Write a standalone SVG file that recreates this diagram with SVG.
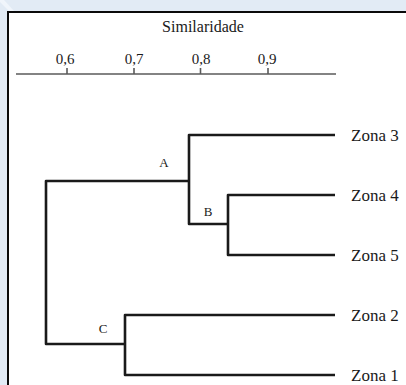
<svg xmlns="http://www.w3.org/2000/svg" width="406" height="385" viewBox="0 0 406 385">
  <style>
    .bg { fill: #e2ebf5; }
    .panel { fill: #ffffff; }
    .frame { fill: none; stroke: #0a0a0a; stroke-width: 2; }
    .axis { fill: none; stroke: #5a5a5a; stroke-width: 1.6; }
    .branch { fill: none; stroke: #1a1a1a; stroke-width: 2.6; stroke-linejoin: round; stroke-linecap: butt; }
    text { font-family: 'Liberation Serif', 'Times New Roman', serif; fill: #1a1a1a; }
    .title { font-size: 16px; text-anchor: middle; }
    .tick { font-size: 15px; text-anchor: middle; }
    .leaf { font-size: 17px; }
    .node { font-size: 13px; text-anchor: middle; }
  </style>

  <rect class="bg" x="0" y="0" width="406" height="385"/>
  <polygon points="0,0 4,0 14,11 9,11 0,2" fill="#f0f5fb"/>
  <rect class="panel" x="8" y="12" width="398" height="373"/>
  <path class="frame" d="M8,385 V12 H406"/>

  <g id="axis" font-family="Liberation Serif, serif">
    <text class="title" x="203" y="32">Similaridade</text>
    <line class="axis" x1="16" y1="74" x2="336" y2="74"/>
    <line class="axis" x1="67" y1="68" x2="67" y2="74"/>
    <line class="axis" x1="134" y1="68" x2="134" y2="74"/>
    <line class="axis" x1="200.5" y1="68" x2="200.5" y2="74"/>
    <line class="axis" x1="268" y1="68" x2="268" y2="74"/>
    <text class="tick" x="65" y="64">0,6</text>
    <text class="tick" x="134" y="64">0,7</text>
    <text class="tick" x="201" y="64">0,8</text>
    <text class="tick" x="267" y="64">0,9</text>
  </g>

  <g id="connectors">
    <path class="branch" d="M335,135 H189 V224 H228"/>
    <path class="branch" d="M335,195 H228 V255 H335"/>
    <path class="branch" d="M189,181 H46 V344 H125"/>
    <path class="branch" d="M335,315 H125 V375 H335"/>
  </g>

  <g id="node-A"><text class="node" x="164" y="167">A</text></g>
  <g id="node-B"><text class="node" x="208" y="216">B</text></g>
  <g id="node-C"><text class="node" x="103" y="333">C</text></g>

  <g id="zona-3"><text class="leaf" x="351" y="141">Zona 3</text></g>
  <g id="zona-4"><text class="leaf" x="351" y="201">Zona 4</text></g>
  <g id="zona-5"><text class="leaf" x="351" y="261">Zona 5</text></g>
  <g id="zona-2"><text class="leaf" x="351" y="321">Zona 2</text></g>
  <g id="zona-1"><text class="leaf" x="351" y="381">Zona 1</text></g>
</svg>
